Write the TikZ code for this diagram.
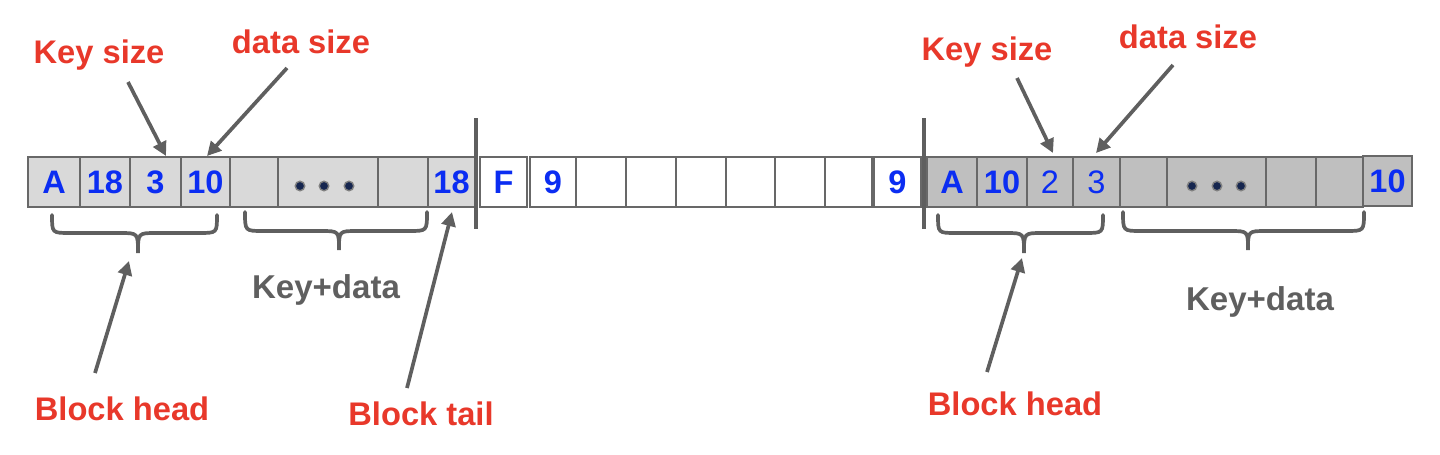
\documentclass[tikz,border=0pt]{standalone}
\usepackage{fontspec}
\setmainfont{Liberation Sans}
\usetikzlibrary{arrows.meta}
\definecolor{cblue}{HTML}{0B2DF2}
\definecolor{cred}{HTML}{E8382A}
\definecolor{cgray}{HTML}{5F5F5F}
\definecolor{cborder}{HTML}{686868}
\definecolor{fillL}{HTML}{D9D9D9}
\definecolor{fillR}{HTML}{BFBFBF}
\definecolor{dotc}{HTML}{16264F}
\begin{document}
\begin{tikzpicture}[x=0.02cm,y=-0.02cm,
  cell/.style={draw=cborder, line width=0.9pt, minimum height=1cm, inner sep=0pt,
    font=\fontsize{18.5}{20}\selectfont\bfseries, text=cblue},
  cellL/.style={cell, fill=fillL},
  cellR/.style={cell, fill=fillR},
  cellW/.style={cell, fill=white},
  thin/.style={font=\fontsize{18.5}{20}\selectfont},
  w/.style={minimum width=#1*0.02cm},
  lab/.style={font=\fontsize{18.6}{20}\selectfont\bfseries, text=cred, inner sep=0pt, anchor=base},
  glab/.style={font=\fontsize{18.8}{20}\selectfont\bfseries, text=cgray, inner sep=0pt, anchor=base},
  arr/.style={draw=cgray, line width=2.1pt, -{Triangle[length=8pt,width=8pt]}},
  brace/.style={draw=cgray, line width=2.1pt, line cap=round},
  sepline/.style={draw=cgray, line width=1.8pt},
  bdot/.style={circle, fill=dotc, draw=gray, line width=0.8pt, minimum size=0.19cm, inner sep=0pt}
]
\path[use as bounding box] (0,0) rectangle (1440,454);

% left block
\node[cellL, w=52] (l1) at (54,182) {A};
\node[cellL, w=50] (l2) at (105,182) {18};
\node[cellL, w=51] (l3) at (155.5,182) {3};
\node[cellL, w=49] (l4) at (205.5,182) {10};
\node[cellL, w=48] (l5) at (254,182) {};
\node[cellL, w=100] (l6) at (328,182) {};
\node[cellL, w=50] (l7) at (403,182) {};
\node[cellL, w=47] (l8) at (451.5,182) {18};
\node[bdot] (ld1) at (300,186) {};
\node[bdot] (ld2) at (324,186) {};
\node[bdot] (ld3) at (349,186) {};

% middle block
\node[cellW, w=47] (m1) at (503.5,182) {F};
\node[cellW, w=46] (m2) at (553,182) {9};
\node[cellW, w=50] (m3) at (601,182) {};
\node[cellW, w=50] (m4) at (651,182) {};
\node[cellW, w=50] (m5) at (701,182) {};
\node[cellW, w=49] (m6) at (750.5,182) {};
\node[cellW, w=50] (m7) at (800,182) {};
\node[cellW, w=47] (m8) at (848.5,182) {};
\node[cellW, w=47] (m9) at (897.5,182) {9};

% right block
\node[cellR, w=50] (r1) at (952,182) {A};
\node[cellR, w=50] (r2) at (1002,182) {10};
\node[cellR, w=46, thin] (r3) at (1050,182) {2};
\node[cellR, w=47, thin] (r4) at (1096.5,182) {3};
\node[cellR, w=47] (r5) at (1143.5,182) {};
\node[cellR, w=99] (r6) at (1216.5,182) {};
\node[cellR, w=50] (r7) at (1291,182) {};
\node[cellR, w=47] (r8) at (1339.5,182) {};
\node[cellR, w=49] (r9) at (1387.5,181) {10};
\node[bdot] (rd1) at (1192,186) {};
\node[bdot] (rd2) at (1217,186) {};
\node[bdot] (rd3) at (1241,186) {};

% separators
\coordinate (s1t) at (476,118); \coordinate (s1b) at (476,229);
\coordinate (s2t) at (924,118); \coordinate (s2b) at (924,229);
\draw[sepline] (s1t) -- (s1b);
\draw[sepline] (s2t) -- (s2b);

% labels
\node[lab] (ks1) at (99,63) {Key size};
\node[lab] (ds1) at (301,53) {data size};
\node[lab] (bh1) at (122,420) {Block head};
\node[lab] (bt1) at (421,425) {Block tail};
\node[glab] (kd1) at (326,298) {Key+data};
\node[lab] (ks2) at (987,60) {Key size};
\node[lab] (ds2) at (1188,48) {data size};
\node[lab] (bh2) at (1015,415) {Block head};
\node[glab] (kd2) at (1260,310) {Key+data};

% arrows
\coordinate (a1s) at (128,82);   \coordinate (a1e) at (166,156);
\coordinate (a2s) at (287,68);   \coordinate (a2e) at (207,156);
\coordinate (a3s) at (95,373);   \coordinate (a3e) at (129,261);
\coordinate (a4s) at (407,388);  \coordinate (a4e) at (452,212);
\coordinate (a5s) at (1017,78);  \coordinate (a5e) at (1053,153);
\coordinate (a6s) at (1173,65);  \coordinate (a6e) at (1096,153);
\coordinate (a7s) at (987,372);  \coordinate (a7e) at (1022,258);
\draw[arr] (a1s) -- (a1e);
\draw[arr] (a2s) -- (a2e);
\draw[arr] (a3s) -- (a3e);
\draw[arr] (a4s) -- (a4e);
\draw[arr] (a5s) -- (a5e);
\draw[arr] (a6s) -- (a6e);
\draw[arr] (a7s) -- (a7e);

% braces
\draw[brace] (52,215) .. controls (52,233) .. (70,233) -- (120,233)
  .. controls (138,233) .. (138,253) .. controls (138,233) .. (156,233)
  -- (199,233) .. controls (217,233) .. (217,215);
\draw[brace] (245,212) .. controls (245,231) .. (263,231) -- (321,231)
  .. controls (339,231) .. (339,250) .. controls (339,231) .. (357,231)
  -- (409,231) .. controls (427,231) .. (427,212);
\draw[brace] (938,215) .. controls (938,233) .. (956,233) -- (1006,233)
  .. controls (1024,233) .. (1024,253) .. controls (1024,233) .. (1042,233)
  -- (1085,233) .. controls (1103,233) .. (1103,215);
\draw[brace] (1123,212) .. controls (1123,231) .. (1141,231) -- (1230,231)
  .. controls (1248,231) .. (1248,250) .. controls (1248,231) .. (1266,231)
  -- (1346,231) .. controls (1364,231) .. (1364,212);
\end{tikzpicture}
\end{document}
